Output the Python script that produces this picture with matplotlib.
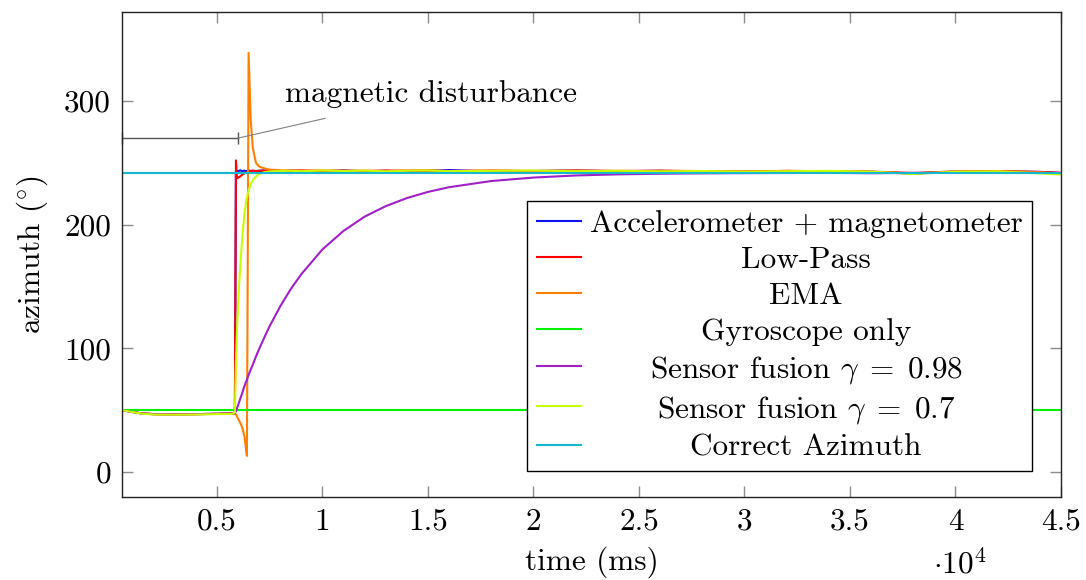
import matplotlib
matplotlib.use("Agg")
import matplotlib.pyplot as plt

plt.rcParams['font.family'] = ['cmr10']
plt.rcParams['mathtext.fontset'] = 'cm'
plt.rcParams['axes.unicode_minus'] = False
plt.rcParams['axes.formatter.use_mathtext'] = True

# sample times (ms)
time_ms = [500, 1000, 1500, 2000, 3000, 4000, 5000, 5700, 5850, 5900,
           5950, 6000, 6050, 6100, 6200, 6300, 6380, 6420, 6500, 6600,
           6700, 6850, 7000, 7250, 7500, 8000, 8500, 9000, 10000, 11000,
           12000, 13000, 14000, 15000, 16000, 18000, 20000, 22000, 24000, 26000,
           28000, 30000, 32000, 34000, 36000, 38000, 40000, 42000, 44000, 45000]

# azimuth estimates (degrees)
accel_mag = [50, 48.5, 47.2, 46.8, 46.6, 46.8, 47.0, 47.3, 48.0,
             243.0, 243.5, 242.8, 243.6, 244.0, 243.2, 243.8, 242.9, 243.4, 244.1,
             243.2, 243.7, 243.0, 243.5, 244.0, 243.3, 242.9, 243.8, 243.4, 243.1,
             243.9, 243.2, 243.6, 242.8, 243.5, 244.2, 243.0, 243.4, 243.8, 243.2,
             243.6, 243.0, 242.6, 243.4, 243.1, 242.8, 241.2, 242.9, 243.3, 242.6, 241.8]

low_pass = [50, 48.5, 47.2, 46.8, 46.6, 46.8, 47.0, 47.3, 48.0,
            252.0, 237.5, 238.0, 238.5, 239.0, 240.5, 241.5, 242.2, 242.6, 243.0,
            243.5, 243.6, 243.4, 243.7, 243.5, 243.8, 243.3, 243.6, 243.9, 243.4,
            243.7, 243.2, 243.8, 243.5, 243.9, 243.4, 243.7, 243.3, 243.8, 243.5,
            243.6, 243.2, 243.0, 243.5, 243.2, 242.9, 241.8, 243.0, 243.2, 242.7, 242.0]

ema = [50, 48.5, 47.2, 46.8, 46.6, 46.8, 47.0, 47.3, 47.0,
       46.5, 45.0, 43.0, 41.5, 40.0, 36.0, 29.0, 18.0, 13.0,
       339.0, 285.0, 262.0, 250.0, 247.0, 245.5, 244.5, 244.0, 243.8, 243.6,
       243.9, 243.5, 243.8, 243.4, 243.9, 243.6, 243.3, 243.8, 243.5, 243.7,
       243.2, 243.6, 243.4, 243.0, 243.5, 243.2, 242.8, 241.5, 243.1, 243.4, 242.5, 241.0]

fusion_098 = [50, 48.5, 47.2, 46.8, 46.6, 46.8, 47.0, 47.3, 47.5,
              49.0, 51.5, 54.0, 56.5, 59.0, 64.0, 69.3, 73.0, 74.6,
              78.6, 82.8, 86.8, 93.5, 99.5, 109.0, 118.0, 134.0, 148.0, 160.0,
              180.0, 195.0, 206.5, 215.0, 221.5, 226.5, 230.3, 235.3, 238.1, 239.8,
              240.7, 241.2, 241.5, 241.7, 241.8, 241.9, 241.6, 241.9, 242.0, 241.8, 241.9, 241.7]

fusion_07 = [50, 48.5, 47.0, 46.5, 46.3, 46.5, 46.8, 47.0, 48.0,
             90.0, 115.0, 135.0, 151.0, 165.0, 190.0, 208.0, 218.0, 222.0,
             228.0, 233.0, 236.0, 239.0, 241.0, 242.5, 243.0, 243.4, 243.6, 243.2,
             243.8, 243.4, 243.7, 243.1, 243.6, 243.9, 243.3, 243.5, 243.8, 243.2,
             243.6, 243.0, 243.4, 242.8, 243.2, 243.5, 242.9, 241.0, 242.8, 243.0, 241.5, 240.5]

gyro_time = [500, 45000]
gyro_only = [50, 50]
correct_time = [500, 45000]
correct_azimuth = [242, 242]

# magnetic disturbance interval
disturbance_span = [500, 6000]
disturbance_level = 270

xtick_values = [5000, 10000, 15000, 20000, 25000, 30000, 35000, 40000, 45000]
ytick_values = [0, 100, 200, 300]

FS = 22.5

fig = plt.figure(figsize=(10.86, 5.80), dpi=100)
ax = fig.add_axes([122 / 1086, (580 - 496.7) / 580, 939 / 1086, 484.7 / 580])

lw = 1.5
ax.plot(time_ms, accel_mag, color='#1010f0', lw=lw, label='Accelerometer + magnetometer')
ax.plot(time_ms, low_pass, color='#ff0000', lw=lw, label='Low-Pass')
ax.plot(time_ms, ema, color='#ff8000', lw=lw, label='EMA')
ax.plot(gyro_time, gyro_only, color='#00f000', lw=lw, label='Gyroscope only')
ax.plot(time_ms, fusion_098, color='#a020c8', lw=lw, label=r'Sensor fusion $\gamma\;=\;0.98$')
ax.plot(time_ms, fusion_07, color='#c8ff00', lw=lw, label=r'Sensor fusion $\gamma\;=\;0.7$')
ax.plot(correct_time, correct_azimuth, color='#17b8cc', lw=lw, label='Correct Azimuth')

# disturbance bracket and callout
ax.plot(disturbance_span, [disturbance_level] * 2, color='#555555', lw=1.0,
        marker='|', markersize=9, markeredgewidth=1.0, clip_on=False)
ax.plot([6000, 10130], [disturbance_level, 286], color='#808080', lw=0.8)
ax.text(8230, 306, 'magnetic disturbance', fontsize=FS, ha='left', va='center')

ax.set_xlim(500, 45000)
ax.set_ylim(-20, 372)
ax.set_xticks(xtick_values)
ax.set_xticklabels([f"{v / 1e4:g}" for v in xtick_values])
ax.set_yticks(ytick_values)
ax.set_yticklabels([str(v) for v in ytick_values])
ax.tick_params(direction='in', length=8, width=1, color='#8c8c8c',
               top=True, right=True, labelsize=FS, pad=8)
for s in ax.spines.values():
    s.set_color('#222222')
    s.set_linewidth(1.0)

ax.set_xlabel('time (ms)', fontsize=FS, labelpad=8)
ax.set_ylabel(r'azimuth $(^{\circ})$', fontsize=FS, labelpad=10)
fig.text(960 / 1086, 1 - 565 / 580, r'$\cdot 10^{4}$', ha='center', va='center', fontsize=FS)

leg = ax.legend(loc='lower right', bbox_to_anchor=((1032 - 122) / 939, (496.7 - 471) / 484.7),
                borderaxespad=0, fontsize=FS, fancybox=False, framealpha=1,
                edgecolor='black', handlelength=1.4, handletextpad=0.3,
                borderpad=0.3, labelspacing=0.255)
leg.get_frame().set_linewidth(1.0)

# center each label within the text column
fig.canvas.draw()
renderer = fig.canvas.get_renderer()
widths = [t.get_window_extent(renderer).width for t in leg.get_texts()]
wmax = max(widths)
for t, w in zip(leg.get_texts(), widths):
    t.set_position(((wmax - w) / 2, 0))

fig.savefig('out.png', dpi=100)
